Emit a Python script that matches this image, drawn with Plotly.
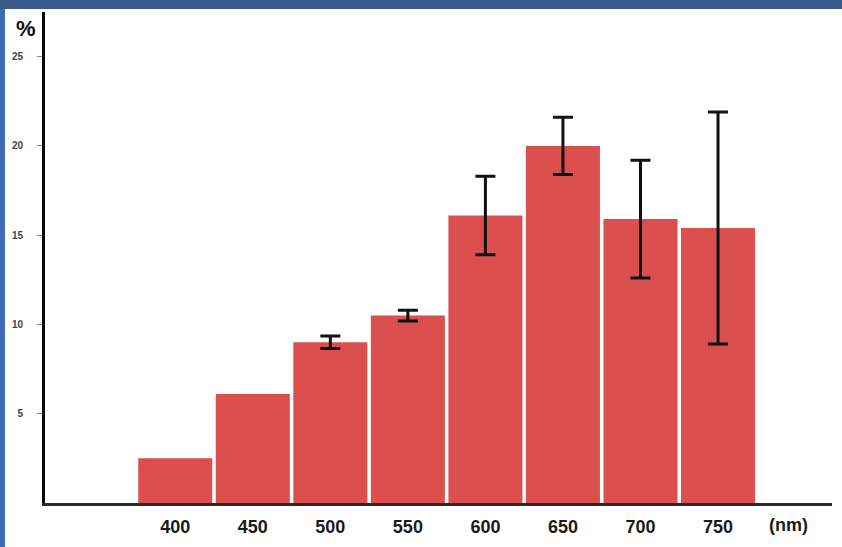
import plotly.graph_objects as go

# Spectral response by wavelength band
wavelengths = ["400", "450", "500", "550", "600", "650", "700", "750"]
percent = [2.5, 6.1, 9.0, 10.5, 16.1, 20.0, 15.9, 15.4]
error = [None, None, 0.35, 0.3, 2.2, 1.6, 3.3, 6.5]
y_ticks = [5, 10, 15, 20, 25]

positions = list(range(len(wavelengths)))

W, H = 842, 547
ML, MR, MT, MB = 45, 10, 12, 42
PW, PH = W - ML - MR, H - MT - MB

BAR_COLOR = "#dc4f4f"

fig = go.Figure()

# bars without a measured spread
plain = [i for i, e in enumerate(error) if e is None]
fig.add_trace(go.Bar(
    x=[positions[i] for i in plain],
    y=[percent[i] for i in plain],
    width=0.955,
    marker=dict(color=BAR_COLOR, line=dict(width=0)),
    showlegend=False,
))

# bars with error whiskers
withe = [i for i, e in enumerate(error) if e is not None]
fig.add_trace(go.Bar(
    x=[positions[i] for i in withe],
    y=[percent[i] for i in withe],
    width=0.955,
    marker=dict(color=BAR_COLOR, line=dict(width=0)),
    error_y=dict(
        type="data",
        array=[error[i] for i in withe],
        visible=True,
        color="#111111",
        thickness=3,
        width=10,
    ),
    showlegend=False,
))

# frame strips along the left and top edges
fig.add_shape(type="rect", xref="paper", yref="paper",
              x0=-ML / PW, x1=(5 - ML) / PW, y0=-MB / PH - 0.01, y1=1 + MT / PH + 0.01,
              fillcolor="#3f6cb4", line=dict(width=0), layer="above")
fig.add_shape(type="rect", xref="paper", yref="paper",
              x0=-ML / PW, x1=1 + MR / PW + 0.01, y0=1 + (MT - 9) / PH, y1=1 + MT / PH + 0.01,
              fillcolor="#3b5a8c", line=dict(width=0), layer="above")

fig.add_annotation(text="<b>%</b>", xref="paper", yref="paper",
                   x=(26 - ML) / PW, y=1 + (MT - 29) / PH, showarrow=False,
                   font=dict(size=22, color="#111111", family="Liberation Sans"),
                   xanchor="center", yanchor="middle")
fig.add_annotation(text="<b>(nm)</b>", xref="paper", yref="paper",
                   x=(788 - ML) / PW, y=-(527 - MT - PH) / PH, showarrow=False,
                   font=dict(size=18, color="#1a1a1a", family="Liberation Sans"),
                   xanchor="center", yanchor="middle")

fig.update_layout(
    width=W, height=H,
    margin=dict(l=ML, r=MR, t=MT, b=MB),
    paper_bgcolor="white",
    plot_bgcolor="white",
    barmode="overlay",
    font=dict(family="Liberation Sans"),
    xaxis=dict(
        range=[-1.68, 8.47],
        tickvals=positions,
        ticktext=["<b>%s</b>" % w for w in wavelengths],
        tickfont=dict(size=18, color="#1a1a1a"),
        ticks="",
        ticklabelstandoff=6,
        showgrid=False,
        zeroline=False,
        showline=True,
        linecolor="#2a2a2a",
        linewidth=2.5,
    ),
    yaxis=dict(
        range=[0, 27.5],
        tickvals=y_ticks,
        ticktext=["<b>%d</b>" % t for t in y_ticks],
        tickfont=dict(size=10, color="#444444"),
        ticks="outside",
        ticklen=5,
        tickwidth=1,
        tickcolor="#888888",
        ticklabelstandoff=12,
        showgrid=False,
        zeroline=False,
        showline=True,
        linecolor="#0a0a0a",
        linewidth=3,
    ),
)

fig.write_html("out.html")
